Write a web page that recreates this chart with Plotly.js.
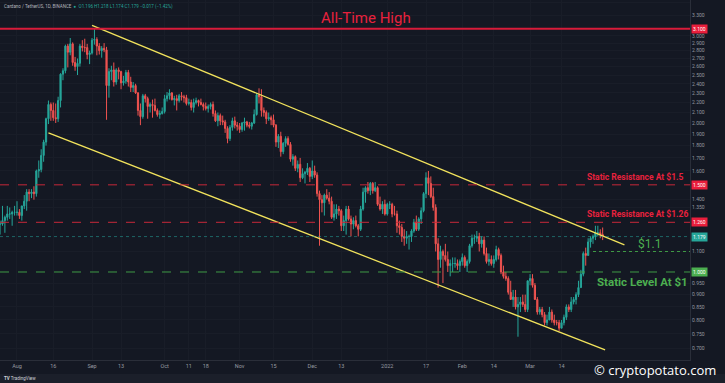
<!DOCTYPE html>
<html><head><meta charset="utf-8">
<script src="https://cdn.plot.ly/plotly-3.0.1.min.js"></script>
<style>html,body{margin:0;padding:0;background:#141823;}#chart{width:725px;height:383px;}</style>
</head><body><div id="chart"></div>
<script>
// ADA/USDT daily candles, first candle date
const startDate = '2021-07-24';
const openP = [
1.22,1.25,1.25,1.27,1.29,1.31,1.31,1.32,
1.32,1.32,1.30,1.36,1.39,1.45,1.44,1.45,1.44,1.60,1.61,1.72,1.83,2.04,2.18,2.12,2.05,2.04,2.22,2.51,2.55,2.86,2.78,2.89,2.65,2.60,2.64,2.86,2.84,2.84,2.75,
2.77,2.94,2.95,2.86,2.80,2.83,2.81,2.38,2.54,2.56,2.42,2.56,2.54,2.41,2.43,2.53,2.42,2.36,2.38,2.30,2.12,2.06,2.27,2.24,2.16,2.18,2.17,2.12,2.08,2.09,
2.11,2.24,2.27,2.30,2.23,2.24,2.22,2.27,2.26,2.25,2.19,2.20,2.15,2.20,2.22,2.20,2.18,2.16,2.14,2.16,2.18,2.09,2.02,2.07,2.02,2.01,1.95,1.86,1.96,2.02,1.98,
1.97,1.94,2.00,2.01,1.98,1.97,2.00,2.08,2.28,2.26,2.12,2.10,2.04,2.05,2.03,1.98,1.83,1.88,1.75,1.82,1.86,1.81,1.69,1.71,1.62,1.65,1.55,1.58,1.59,1.62,
1.56,1.60,1.57,1.44,1.40,1.38,1.43,1.41,1.39,1.29,1.31,1.34,1.33,1.24,1.27,1.34,1.28,1.25,1.27,1.24,1.22,1.34,1.45,1.48,1.46,1.51,1.46,1.48,1.37,1.34,1.37,
1.31,1.37,1.37,1.31,1.31,1.24,1.23,1.18,1.17,1.18,1.18,1.21,1.26,1.22,1.28,1.33,1.44,1.55,1.51,1.42,1.35,1.14,1.06,1.10,1.08,1.06,1.03,1.04,1.04,1.04,1.03,
1.05,1.07,1.03,1.05,1.13,1.17,1.17,1.18,1.14,1.16,1.09,1.05,1.06,1.04,1.06,1.11,1.08,1.00,0.98,0.97,0.91,0.88,0.89,0.85,0.86,0.87,0.86,0.84,
0.96,0.97,0.94,0.88,0.83,0.84,0.82,0.79,0.80,0.83,0.80,0.79,0.79,0.77,0.79,0.81,0.85,0.84,0.87,0.88,0.90,0.93,0.99,1.09,1.08,1.15,1.17,1.18,1.20,1.20,1.19];
const highP = [
1.27,1.27,1.36,1.30,1.36,1.35,1.33,1.36,
1.39,1.34,1.36,1.43,1.47,1.47,1.47,1.49,1.61,1.68,1.77,1.85,2.05,2.22,2.20,2.20,2.19,2.26,2.52,2.58,2.88,2.89,2.97,2.91,2.72,2.70,2.89,2.94,2.96,2.89,2.80,
2.97,3.10,2.98,2.90,2.86,2.90,2.85,2.58,2.61,2.65,2.58,2.59,2.55,2.49,2.56,2.56,2.48,2.42,2.40,2.31,2.19,2.29,2.29,2.26,2.20,2.23,2.24,2.14,2.12,2.15,
2.28,2.31,2.34,2.31,2.27,2.28,2.29,2.31,2.28,2.28,2.24,2.23,2.24,2.25,2.23,2.24,2.20,2.20,2.18,2.20,2.21,2.12,2.10,2.09,2.07,2.03,1.97,1.98,2.05,2.06,2.01,
2.00,2.01,2.05,2.02,2.01,2.01,2.13,2.30,2.35,2.34,2.15,2.12,2.10,2.07,2.08,1.99,1.90,1.92,1.83,1.88,1.88,1.83,1.73,1.72,1.68,1.70,1.62,1.60,1.66,1.63,
1.68,1.64,1.59,1.46,1.43,1.44,1.47,1.45,1.42,1.37,1.37,1.36,1.34,1.30,1.36,1.36,1.30,1.29,1.30,1.25,1.36,1.48,1.49,1.52,1.52,1.52,1.52,1.49,1.42,1.39,1.40,
1.38,1.39,1.38,1.36,1.33,1.27,1.25,1.22,1.21,1.19,1.22,1.28,1.30,1.29,1.35,1.45,1.59,1.60,1.56,1.48,1.37,1.17,1.13,1.11,1.14,1.10,1.06,1.07,1.07,1.06,1.06,
1.09,1.08,1.06,1.14,1.19,1.19,1.21,1.20,1.18,1.18,1.12,1.09,1.08,1.08,1.13,1.12,1.09,1.03,1.00,0.98,0.96,0.92,0.92,0.89,0.89,0.90,0.90,0.96,
0.99,0.99,0.95,0.89,0.85,0.85,0.83,0.82,0.85,0.84,0.82,0.80,0.80,0.80,0.82,0.86,0.86,0.89,0.89,0.91,0.96,1.01,1.10,1.12,1.17,1.18,1.19,1.24,1.24,1.22,1.23];
const lowP = [
1.20,1.19,1.24,1.20,1.27,1.28,1.24,1.30,
1.30,1.28,1.27,1.34,1.33,1.39,1.41,1.40,1.42,1.55,1.59,1.67,1.80,1.99,2.02,2.02,2.00,2.01,2.15,2.44,2.52,2.59,2.74,2.61,2.55,2.50,2.60,2.79,2.78,2.69,2.63,
2.75,2.88,2.74,2.75,2.71,2.78,2.03,2.25,2.44,2.37,2.39,2.45,2.34,2.38,2.40,2.37,2.31,2.31,2.29,2.07,1.98,2.04,2.20,2.04,2.10,2.05,2.11,2.06,2.04,2.08,
2.09,2.21,2.23,2.22,2.17,2.12,2.20,2.22,2.20,2.17,2.17,2.12,2.10,2.18,2.16,2.17,2.12,2.12,2.10,2.13,2.06,2.01,1.97,1.98,1.98,1.91,1.82,1.84,1.93,1.95,1.93,
1.91,1.92,1.93,1.96,1.95,1.94,1.99,2.07,2.19,2.06,2.06,1.99,2.02,1.98,1.96,1.79,1.78,1.71,1.73,1.79,1.80,1.67,1.64,1.60,1.59,1.52,1.54,1.51,1.57,1.52,
1.54,1.55,1.42,1.13,1.32,1.30,1.40,1.37,1.28,1.27,1.28,1.30,1.21,1.21,1.19,1.27,1.18,1.22,1.23,1.18,1.21,1.33,1.38,1.44,1.43,1.44,1.45,1.36,1.33,1.31,1.30,
1.30,1.34,1.29,1.30,1.20,1.19,1.15,1.13,1.14,1.11,1.15,1.20,1.21,1.21,1.25,1.32,1.41,1.43,1.41,1.33,1.10,0.93,1.02,0.95,1.05,1.00,0.98,1.00,1.02,1.01,1.00,
1.03,1.02,1.00,1.04,1.12,1.14,1.15,1.10,1.12,1.08,1.04,1.03,1.03,1.02,1.05,1.06,0.99,0.97,0.96,0.90,0.88,0.85,0.84,0.74,0.83,0.85,0.83,0.83,
0.94,0.93,0.88,0.82,0.82,0.81,0.78,0.78,0.80,0.79,0.78,0.78,0.76,0.77,0.78,0.80,0.83,0.83,0.86,0.86,0.89,0.93,0.98,1.03,1.08,1.12,1.14,1.16,1.18,1.17,1.16];
const closeP = [
1.25,1.25,1.27,1.29,1.31,1.31,1.32,1.32,
1.32,1.30,1.36,1.39,1.45,1.44,1.45,1.44,1.60,1.61,1.72,1.83,2.04,2.18,2.12,2.05,2.04,2.22,2.51,2.55,2.86,2.78,2.89,2.65,2.60,2.64,2.86,2.84,2.84,2.75,2.77,
2.94,2.95,2.86,2.80,2.83,2.81,2.38,2.54,2.56,2.42,2.56,2.54,2.41,2.43,2.53,2.42,2.36,2.38,2.30,2.12,2.06,2.27,2.24,2.16,2.18,2.17,2.12,2.08,2.09,2.11,
2.24,2.27,2.30,2.23,2.24,2.22,2.27,2.26,2.25,2.19,2.20,2.15,2.20,2.22,2.20,2.18,2.16,2.14,2.16,2.18,2.09,2.02,2.07,2.02,2.01,1.95,1.86,1.96,2.02,1.98,1.97,
1.94,2.00,2.01,1.98,1.97,2.00,2.08,2.28,2.26,2.12,2.10,2.04,2.05,2.03,1.98,1.83,1.88,1.75,1.82,1.86,1.81,1.69,1.71,1.62,1.65,1.55,1.58,1.59,1.62,1.56,
1.60,1.57,1.44,1.40,1.38,1.43,1.41,1.39,1.29,1.31,1.34,1.33,1.24,1.27,1.34,1.28,1.25,1.27,1.24,1.22,1.34,1.45,1.48,1.46,1.51,1.46,1.48,1.37,1.34,1.37,1.31,
1.37,1.37,1.31,1.31,1.24,1.23,1.18,1.17,1.18,1.18,1.21,1.26,1.22,1.28,1.33,1.44,1.55,1.51,1.42,1.35,1.14,1.06,1.10,1.08,1.06,1.03,1.04,1.04,1.04,1.03,1.05,
1.07,1.03,1.05,1.13,1.17,1.17,1.18,1.14,1.16,1.09,1.05,1.06,1.04,1.06,1.11,1.08,1.00,0.98,0.97,0.91,0.88,0.89,0.85,0.86,0.87,0.86,0.84,0.96,
0.97,0.94,0.88,0.83,0.84,0.82,0.79,0.80,0.83,0.80,0.79,0.79,0.77,0.79,0.81,0.85,0.84,0.87,0.88,0.90,0.93,0.99,1.09,1.08,1.15,1.17,1.18,1.20,1.20,1.19,1.18];

// Trend channel (two touch points each)
const upperTrendDates = ['2021-09-01', '2022-04-09'];
const upperTrendPrices = [3.15, 1.134];
const lowerTrendDates = ['2021-08-14', '2022-04-01'];
const lowerTrendPrices = [1.91, 0.696];

// Horizontal levels
const athPrice = 3.10;
const resistanceHigh = 1.5;
const resistanceLow = 1.26;
const levelMid = 1.1;
const levelSupport = 1.0;
const lastPrice = 1.179;
const levelMidStart = '2022-03-27';

// Axis ticks
const xTickVals = ['2021-08-01','2021-08-16','2021-09-01','2021-09-13','2021-10-01','2021-10-11','2021-10-18','2021-11-01','2021-11-15','2021-12-01','2021-12-13','2022-01-01','2022-01-17','2022-02-01','2022-02-14','2022-03-01','2022-03-14'];
const xTickText = ['Aug','16','Sep','13','Oct','11','18','Nov','15','Dec','13','2022','17','Feb','14','Mar','14'];
const yTickVals = [0.70,0.75,0.80,0.85,0.90,0.95,1.10,1.35,1.40,1.60,1.70,1.80,1.90,2.00,2.10,2.20,2.30,2.40,2.50,2.60,2.70,2.80,2.90,3.00,3.30,3.50];

const dates = [];
(function(){ const d0 = new Date(startDate + 'T00:00:00Z');
  for (let i = 0; i < openP.length; i++) { dates.push(new Date(d0.getTime() + i*86400000).toISOString().slice(0,10)); } })();

const UP = '#26a69a', DOWN = '#ef5350', YEL = '#f2e35c', RED = '#e8213d', GREEN = '#4caf50';

const traces = [
  { type:'candlestick', x:dates, open:openP, high:highP, low:lowP, close:closeP,
    increasing:{line:{color:UP,width:1}, fillcolor:UP},
    decreasing:{line:{color:DOWN,width:1}, fillcolor:DOWN},
    whiskerwidth:0, hoverinfo:'skip', showlegend:false },
  { type:'scatter', mode:'lines', x:upperTrendDates, y:upperTrendPrices, line:{color:YEL,width:1.3}, hoverinfo:'skip', showlegend:false },
  { type:'scatter', mode:'lines', x:lowerTrendDates, y:lowerTrendPrices, line:{color:YEL,width:1.3}, hoverinfo:'skip', showlegend:false }
];

const hline = (y, color, dash, width, x0ref) => ({ type:'line', xref: x0ref ? 'x' : 'paper', yref:'y',
  x0: x0ref ? x0ref : 0, x1: x0ref ? '2022-05-07' : 1, y0:y, y1:y, line:{color:color, dash:dash, width:width}, layer:'above' });

const shapes = [
  hline(athPrice, '#d81b3a', 'solid', 2),
  hline(resistanceHigh, '#c62839', 'dash', 1),
  hline(resistanceLow, '#c62839', 'dash', 1),
  hline(levelSupport, '#3f9a45', 'dash', 1),
  hline(lastPrice, 'rgba(38,166,154,0.55)', 'dot', 1),
  hline(levelMid, '#3f9a45', 'dot', 1.2, levelMidStart),
  { type:'rect', xref:'paper', yref:'paper', x0:-0.01, x1:1.06, y0:-0.07, y1:-0.039, fillcolor:'#1b1f2a', line:{width:0}, layer:'below' }
];

const L10 = Math.log10;
const boxAnn = (v, bg, txt) => ({ xref:'paper', yref:'y', x:1, y:L10(v), xanchor:'left', xshift:1, text:txt,
  showarrow:false, bgcolor:bg, font:{size:5, color:'#ffffff', family:'Roboto'}, borderpad:1 });

const annotations = [
  { xref:'paper', yref:'paper', x:0.003, y:0.998, xanchor:'left', yanchor:'top', showarrow:false,
    text:'Cardano / TetherUS, 1D, BINANCE  <span style="color:#26a69a">●</span>  <span style="color:#26a69a">O1.196 H1.218 L1.174 C1.179 −0.017 (−1.42%)</span>',
    font:{size:4.5, color:'#b2b5be', family:'Roboto'} },
  { xref:'paper', yref:'paper', x:366/690, y:1-18/360, xanchor:'center', yanchor:'middle', showarrow:false,
    text:'All-Time High', font:{size:15, color:RED, family:'Roboto'} },
  { xref:'paper', yref:'paper', x:585/690, y:1-177/360, xanchor:'left', yanchor:'middle', showarrow:false,
    text:'<b>Static Resistance At $1.5</b>', font:{size:8.5, color:RED, family:'Roboto'} },
  { xref:'paper', yref:'paper', x:585/690, y:1-214/360, xanchor:'left', yanchor:'middle', showarrow:false,
    text:'<b>Static Resistance At $1.26</b>', font:{size:8.5, color:RED, family:'Roboto'} },
  { xref:'paper', yref:'paper', x:636/690, y:1-244/360, xanchor:'left', yanchor:'middle', showarrow:false,
    text:'$1.1', font:{size:12, color:GREEN, family:'Roboto'} },
  { xref:'paper', yref:'paper', x:595/690, y:1-282/360, xanchor:'left', yanchor:'middle', showarrow:false,
    text:'<b>Static Level At $1</b>', font:{size:11.5, color:GREEN, family:'Roboto'} },
  boxAnn(athPrice, '#e91e3c', '3.100'),
  boxAnn(resistanceHigh, '#e91e3c', '1.500'),
  boxAnn(resistanceLow, '#e91e3c', '1.260'),
  boxAnn(lastPrice, '#26a69a', '1.179'),
  boxAnn(levelSupport, '#4caf50', '1.000'),
  { xref:'paper', yref:'paper', x:718/690, y:1-370/360, xanchor:'right', yanchor:'middle', showarrow:false,
    text:'© cryptopotato.com', font:{size:13, color:'#ffffff', family:'Open Sans'} },
  { xref:'paper', yref:'paper', x:0.003, y:1-378/360, xanchor:'left', yanchor:'middle', showarrow:false,
    text:'<b>TV</b> TradingView', font:{size:4.5, color:'#d1d4dc', family:'Roboto'} }
];

const layout = {
  width:725, height:383,
  margin:{l:0, r:35, t:0, b:23},
  paper_bgcolor:'#141823', plot_bgcolor:'#141823',
  showlegend:false,
  xaxis:{ type:'date', range:['2021-07-24 23:30','2022-05-06 02:00'], rangeslider:{visible:false},
    tickvals:xTickVals, ticktext:xTickText, tickfont:{size:5.5, color:'#9598a1', family:'Roboto'},
    showgrid:true, gridcolor:'#191d28', zeroline:false, showline:true, linecolor:'#2a2e39', ticks:'', fixedrange:true },
  yaxis:{ type:'log', side:'right', range:[-0.1778, 0.5495],
    tickvals:yTickVals, ticktext:yTickVals.map(v => v.toFixed(3)), tickfont:{size:5, color:'#9598a1', family:'Roboto'},
    showgrid:true, gridcolor:'#191d28', zeroline:false, showline:true, linecolor:'#2a2e39', ticks:'', fixedrange:true },
  shapes:shapes, annotations:annotations
};

Plotly.newPlot('chart', traces, layout, {staticPlot:true, displayModeBar:false});
</script></body></html>
